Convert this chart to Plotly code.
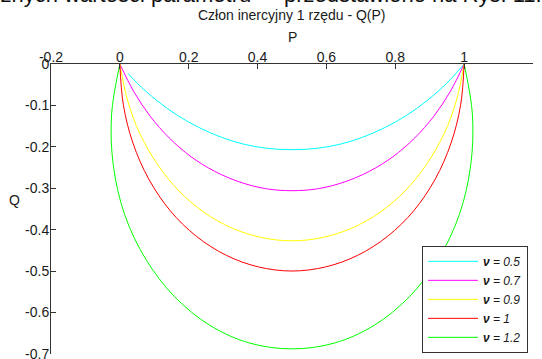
import plotly.graph_objects as go

# Nyquist curves Q(P) of a fractional first-order inertial element, one per order nu
nu_labels = ["0.5", "0.7", "0.9", "1", "1.2"]
colors = ["#00FFFF", "#FF00FF", "#FFFF00", "#FF0000", "#00FF00"]

p_05 = [1.0, 0.949, 0.893, 0.833, 0.771, 0.705, 0.638, 0.569, 0.5,
        0.431, 0.362, 0.295, 0.229, 0.167, 0.107, 0.051, 0.024]
q_05 = [0.0, -0.047, -0.088, -0.124, -0.153, -0.177, -0.194, -0.204, -0.207,
        -0.204, -0.194, -0.177, -0.153, -0.124, -0.088, -0.047, -0.023]

p_07 = [1.0, 0.960, 0.912, 0.856, 0.793, 0.725, 0.652, 0.577, 0.5,
        0.423, 0.348, 0.275, 0.207, 0.144, 0.088, 0.040, 0.0]
q_07 = [0.0, -0.066, -0.126, -0.179, -0.224, -0.259, -0.285, -0.301, -0.306,
        -0.301, -0.285, -0.259, -0.224, -0.179, -0.126, -0.066, 0.0]

p_09 = [1.0, 0.978, 0.942, 0.891, 0.829, 0.756, 0.675, 0.589, 0.5,
        0.411, 0.325, 0.244, 0.171, 0.109, 0.058, 0.022, 0.0]
q_09 = [0.0, -0.087, -0.168, -0.242, -0.306, -0.358, -0.396, -0.419, -0.427,
        -0.419, -0.396, -0.358, -0.306, -0.242, -0.168, -0.087, 0.0]

p_10 = [1.0, 0.990, 0.962, 0.916, 0.854, 0.778, 0.691, 0.598, 0.5,
        0.402, 0.309, 0.222, 0.146, 0.084, 0.038, 0.010, 0.0]
q_10 = [0.0, -0.098, -0.191, -0.278, -0.354, -0.416, -0.462, -0.490, -0.5,
        -0.490, -0.462, -0.416, -0.354, -0.278, -0.191, -0.098, 0.0]

p_12 = [1.0, 1.024, 1.019, 0.986, 0.925, 0.841, 0.739, 0.623, 0.5,
        0.377, 0.261, 0.159, 0.075, 0.014, -0.019, -0.024, 0.0]
q_12 = [0.0, -0.121, -0.245, -0.364, -0.471, -0.562, -0.631, -0.674, -0.688,
        -0.674, -0.631, -0.562, -0.471, -0.364, -0.245, -0.121, 0.0]

series_p = [p_05, p_07, p_09, p_10, p_12]
series_q = [q_05, q_07, q_09, q_10, q_12]

x_ticks = [-0.2, 0, 0.2, 0.4, 0.6, 0.8, 1, 1.2]
x_tick_text = ["-0.2", "0", "0.2", "0.4", "0.6", "0.8", "1", "1.2"]
y_ticks = [0, -0.1, -0.2, -0.3, -0.4, -0.5, -0.6, -0.7]
y_tick_text = ["0", "-0.1", "-0.2", "-0.3", "-0.4", "-0.5", "-0.6", "-0.7"]

FONT = "Liberation Sans, Arial, sans-serif"
AXIS = "#333333"
TXT = "#1a1a1a"
FS = 14

fig = go.Figure()
for lab, col, px, qy in zip(nu_labels, colors, series_p, series_q):
    fig.add_trace(go.Scatter(
        x=px, y=qy, mode="lines",
        line=dict(color=col, width=1, shape="spline", smoothing=1.0),
        name="<b><i>\u03bd</i></b><i> = " + lab + "</i>",
    ))

fig.update_layout(
    width=542, height=359,
    margin=dict(l=51, r=9, t=64, b=5, autoexpand=False),
    paper_bgcolor="white", plot_bgcolor="white",
    font=dict(family=FONT, size=FS, color=TXT),
    showlegend=True,
    legend=dict(
        x=0.9896, y=0.004, xanchor="right", yanchor="bottom",
        bgcolor="white", bordercolor=AXIS, borderwidth=1,
        font=dict(family=FONT, size=12, color=TXT),
        tracegroupgap=0, itemwidth=50,
    ),
    xaxis=dict(
        side="top", range=[-0.2, 1.2],
        tickvals=x_ticks, ticktext=x_tick_text,
        ticks="inside", ticklen=5, tickcolor=AXIS,
        showline=True, linecolor=AXIS, linewidth=1,
        showgrid=False, zeroline=False, mirror=False,
        automargin=False, ticklabelstandoff=-5,
    ),
    yaxis=dict(
        range=[-0.7004, 0],
        tickvals=y_ticks, ticktext=y_tick_text,
        ticks="inside", ticklen=5, tickcolor=AXIS,
        showline=True, linecolor=AXIS, linewidth=1,
        showgrid=False, zeroline=False, mirror=False,
        ticklabeloverflow="allow", automargin=False, ticklabelstandoff=-2,
    ),
    annotations=[
        dict(text="Człon inercyjny 1 rzędu - Q(P)", xref="paper", yref="paper",
             x=0.5, y=1.169, xanchor="center", yanchor="middle",
             showarrow=False, font=dict(family=FONT, size=FS, color=TXT)),
        dict(text="P", xref="paper", yref="paper",
             x=0.5, y=1.093, xanchor="center", yanchor="middle",
             showarrow=False, font=dict(family=FONT, size=FS, color=TXT)),
        dict(text="Q", xref="paper", yref="paper",
             x=-0.0747, y=0.53, xanchor="center", yanchor="middle",
             showarrow=False, font=dict(family=FONT, size=FS, color=TXT)),
        dict(text="różnych wartości parametru", xref="paper", yref="paper",
             x=(-20 - 51) / 482, y=1.1945, xanchor="left", yanchor="bottom",
             borderpad=0, showarrow=False,
             font=dict(family=FONT, size=22, color="#111111")),
        dict(text="przedstawiono na Rys. 11.", xref="paper", yref="paper",
             x=(283 - 51) / 482, y=1.1945, xanchor="left", yanchor="bottom",
             borderpad=0, showarrow=False,
             font=dict(family=FONT, size=22, color="#111111")),
    ],
)

fig.write_html("out.html")
